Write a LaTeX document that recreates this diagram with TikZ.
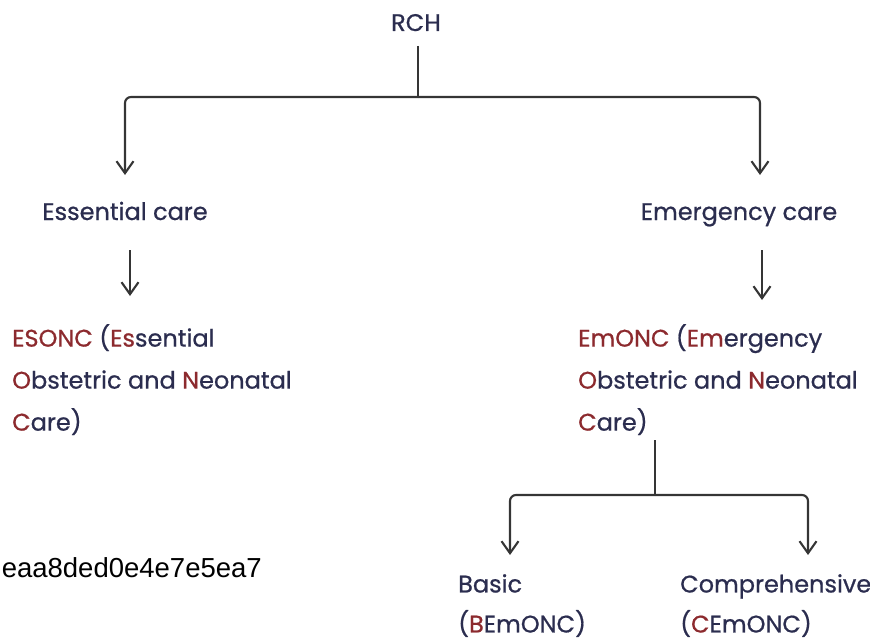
\documentclass[tikz,border=0pt]{standalone}
\usepackage{fontspec}
\setmainfont{Poppins}[UprightFeatures={FakeBold=0.7}]
\newfontfamily\hashfont{Liberation Sans}
\usetikzlibrary{arrows.meta}
\definecolor{ink}{HTML}{2B2D4F}
\definecolor{hl}{HTML}{8C2A2E}
\definecolor{wire}{HTML}{353535}
\newcommand{\hi}[1]{\textcolor{hl}{#1}}
\tikzset{
  lbl/.style={text=ink, inner sep=0pt, anchor=base, font=\fontsize{24}{42}\selectfont},
  blk/.style={lbl, align=left, anchor=north west},
  wireline/.style={draw=wire, line width=2.1pt, rounded corners=6pt},
  arrowline/.style={wireline, -{Straight Barb[length=12pt,width=17pt,line width=2.1pt]}}
}
\begin{document}
\begin{tikzpicture}[x=1pt,y=-1pt]
\useasboundingbox (0,0) rectangle (870,642);

% labels
\node[lbl] (rch) at (416,31) {RCH};
\node[lbl] (ess) at (125,220) {Essential care};
\node[lbl] (emg) at (739,220) {Emergency care};
\node[blk] (esonc) at (12,324) {\hi{ESONC} (\hi{Es}sential\\\hi{O}bstetric and \hi{N}eonatal\\\hi{C}are)};
\node[blk] (emonc) at (578,324) {\hi{EmONC} (\hi{Em}ergency\\\hi{O}bstetric and \hi{N}eonatal\\\hi{C}are)};
\node[blk, font=\fontsize{24}{40}\selectfont] (basic) at (458,574) {Basic\\(\hi{B}EmONC)};
\node[blk, font=\fontsize{24}{40}\selectfont] (comp) at (680,574) {Comprehensive\\(\hi{C}EmONC)};
\node[inner sep=0pt, anchor=east, font=\hashfont\fontsize{27.5}{30}\selectfont] (hash) at (262,568) {eaa8ded0e4e7e5ea7};

% top branching
\coordinate (top) at (418,46);
\coordinate (bar) at (418,97);
\coordinate (ltip) at (125,175);
\coordinate (rtip) at (760,175);
\draw[wireline] (top) -- (bar);
\draw[arrowline] (bar) -| (ltip);
\draw[arrowline] (bar) -| (rtip);

% second level
\coordinate (l2a) at (130,250);
\coordinate (l2b) at (130,296);
\coordinate (r2a) at (762,250);
\coordinate (r2b) at (762,300);
\draw[arrowline] (l2a) -- (l2b);
\draw[arrowline] (r2a) -- (r2b);

% bottom branching
\coordinate (stem) at (655,440);
\coordinate (bar2) at (655,495);
\coordinate (btip) at (510,555);
\coordinate (ctip) at (808,555);
\draw[wireline] (stem) -- (bar2);
\draw[arrowline] (bar2) -| (btip);
\draw[arrowline] (bar2) -| (ctip);
\end{tikzpicture}
\end{document}
